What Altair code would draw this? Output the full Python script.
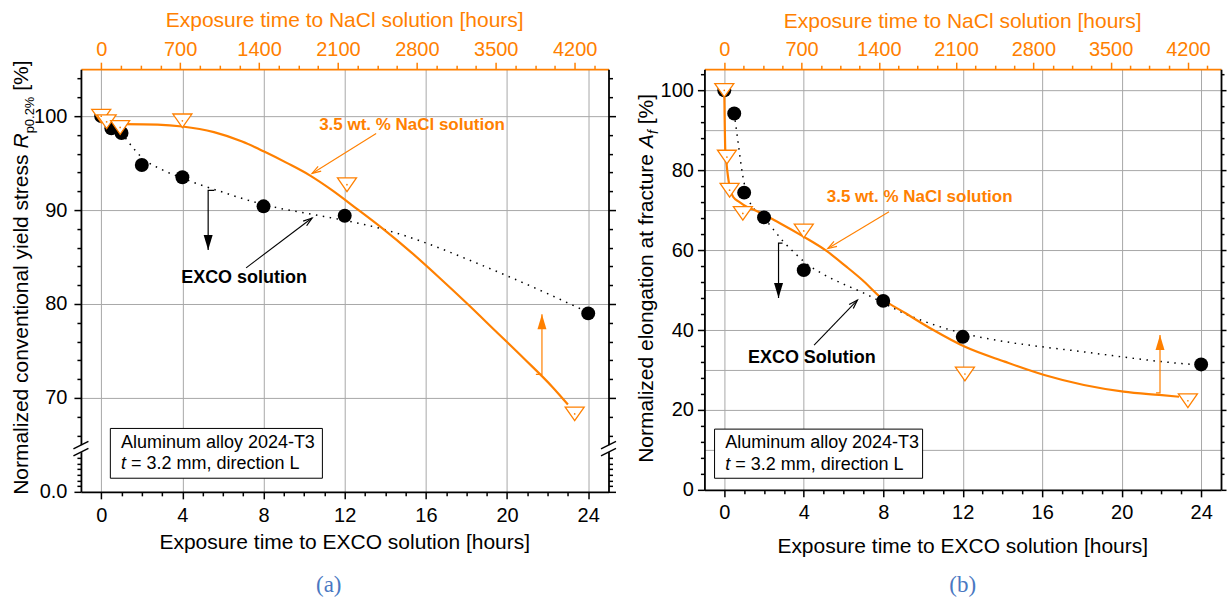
import math
import altair as alt
import pandas as pd

ORANGE = "#FF8000"
BLUE = "#4A78C2"
GRID = "#A8A8A8"
SANS = "Liberation Sans"
SERIF = "Liberation Serif"

XB = [-1, 25]        # EXCO exposure time, hours (bottom axis)
XT = [-180, 4500]    # NaCl exposure time, hours (top axis)

# ---------- (a) normalized conventional yield stress ----------
a_exco_h = [0, 0.5, 1, 2, 4, 8, 12, 24]
a_exco_v = [100, 98.7, 98.2, 94.8, 93.5, 90.4, 89.4, 79.0]
a_nacl_h = [0, 48, 168, 720, 2180, 4200]
a_nacl_v = [100, 99.4, 98.8, 99.5, 92.7, 68.3]
a_exco_fit_h = [0.5, 1, 1.5, 2, 3, 4, 5, 6, 7, 8, 9, 10, 11, 12, 14, 16, 18, 20, 22, 24]
a_exco_fit_v = [99.3, 98.2, 96.8, 95.6, 94.3, 93.4, 92.6, 91.9, 91.2, 90.6, 90.1, 89.7,
                89.3, 88.9, 87.9, 86.5, 84.8, 83.0, 81.1, 79.1]
a_nacl_fit_h = [200, 500, 720, 1000, 1250, 1450, 1650, 1850, 2050, 2250, 2500, 2750,
                3000, 3250, 3500, 3750, 4000, 4140]
a_nacl_fit_v = [99.15, 99.1, 98.9, 98.3, 97.3, 96.2, 95.0, 93.7, 92.1, 90.3, 88.0, 85.5,
                82.8, 80.0, 77.1, 74.2, 71.2, 69.3]

# ---------- (b) normalized elongation at fracture ----------
b_exco_h = [0, 0.5, 1, 2, 4, 8, 12, 24]
b_exco_v = [100, 94.2, 74.4, 68.2, 55.0, 47.3, 38.3, 31.4]
b_nacl_h = [0, 24, 48, 168, 720, 2180, 4200]
b_nacl_v = [100, 83.3, 75.0, 69.2, 64.8, 29.0, 22.3]
b_exco_fit_h = [0.5, 0.6, 0.7, 0.8, 0.9, 1.0, 1.2, 1.5, 2.0, 2.5, 3.0, 3.5, 4.0, 5, 6, 7,
                8, 9, 10, 11, 12, 14, 16, 18, 20, 22, 24]
b_exco_fit_v = [94.2, 90.5, 86.8, 83.0, 79.5, 76.8, 73.0, 70.3, 68.0, 65.0, 62.0, 59.5,
                57.2, 53.9, 51.5, 49.3, 46.8, 44.3, 42.3, 40.6, 39.2, 37.2, 35.8, 34.6,
                33.3, 32.1, 31.2]
b_nacl_fit_h = [0, 9, 20, 45, 81, 135, 207, 278, 500, 710, 926, 1100, 1248, 1428, 1643,
                1894, 2181, 2540, 2899, 3258, 3617, 3940, 4120]
b_nacl_fit_v = [100, 85, 81.7, 76.3, 73.3, 72.1, 70.8, 70.0, 66.8, 63.5, 59.8, 56.0, 52.6,
                47.9, 44.2, 40.0, 35.8, 32.1, 28.75, 26.25, 24.6, 23.75, 23.3]

# Arial / Liberation Sans advance widths (1/1000 em), used to chain title pieces
ARIAL = dict(zip("abcdefghijklmnopqrstuvwxyz",
                 [556, 556, 500, 556, 556, 278, 556, 556, 222, 222, 500, 222, 833,
                  556, 556, 556, 556, 333, 500, 278, 556, 500, 722, 500, 500, 500]))
ARIAL.update(zip("ABCDEFGHIJKLMNOPQRSTUVWXYZ",
                 [667, 667, 722, 722, 667, 611, 778, 722, 278, 500, 667, 556, 833,
                  722, 778, 667, 778, 722, 667, 611, 722, 667, 944, 667, 667, 611]))
ARIAL.update({" ": 278, "%": 889, ".": 278, "[": 278, "]": 278, ",": 278, "=": 584, "-": 333})
ARIAL.update({d: 556 for d in "0123456789"})


def text_width(s, size):
    return sum(ARIAL.get(c, 556) for c in s) * size / 1000.0


ONE = pd.DataFrame({"k": [0]})
TRI = "M-1,-0.72L1,-0.72L0,0.72Z"
VHEAD = "M-0.45,1.4L0,0L0.45,1.4"
FHEAD = "M0,0L0.6,2L-0.6,2Z"


def cond(test, yes, no):
    return {"condition": {"test": test, "value": yes}, "value": no}


def bottom_axis(pad):
    return alt.Axis(orient="bottom", values=list(range(0, 25)), format="d",
                    labelExpr="datum.value % 4 === 0 ? datum.label : ''",
                    tickSize=cond("datum.value % 4 === 0", 7, 4),
                    grid=True, gridColor=GRID, gridWidth=1,
                    gridOpacity=cond("datum.value % 4 === 0", 1, 0),
                    domainColor="black", domainWidth=1.8, tickColor="black", tickWidth=1.5,
                    labelFont=SANS, labelFontSize=20, labelColor="black", labelPadding=pad,
                    labelFlush=False, labelOverlap=False, title=None)


def top_axis():
    return alt.Axis(orient="top", values=[175 * k for k in range(26)], format="d",
                    labelExpr="datum.value % 700 === 0 ? datum.label : ''",
                    tickSize=cond("datum.value % 700 === 0", 7, 4),
                    grid=False, domainColor=ORANGE, domainWidth=1.8, tickColor=ORANGE,
                    tickWidth=1.5, labelFont=SANS, labelFontSize=20, labelColor=ORANGE,
                    labelPadding=3, labelFlush=False, labelOverlap=False, title=None)


def y_axis(orient, values, major, label_expr, grid_test, tick_test, pad, big, small):
    opts = dict(orient=orient, values=values,
                tickSize=cond(major, big, small),
                tickOpacity=cond(tick_test, 1, 0),
                domainColor="black", domainWidth=1.8, tickColor="black", tickWidth=1.5,
                labelFlush=False, labelOverlap=False, title=None)
    if orient == "left":
        opts.update(labelExpr=label_expr, labelFont=SANS, labelFontSize=20,
                    labelColor="black", labelPadding=pad, grid=True, gridColor=GRID,
                    gridWidth=1, gridOpacity=cond(grid_test, 1, 0))
    else:
        opts.update(labels=False, grid=False)
    return alt.Axis(**opts)


def panel(c):
    W, H, ydom = c["W"], c["H"], c["ydom"]
    px_x = W / (XB[1] - XB[0])
    px_y = H / (ydom[1] - ydom[0])

    def X(f, top=False, axis=None):
        return alt.X(f, type="quantitative",
                     scale=alt.Scale(domain=XT if top else XB, nice=False, zero=False),
                     axis=axis)

    def Y(f, axis=None):
        return alt.Y(f, type="quantitative",
                     scale=alt.Scale(domain=ydom, nice=False, zero=False), axis=axis)

    def angle_of(x0, y0, x1, y1):
        dx = (x1 - x0) * px_x
        dy = -(y1 - y0) * px_y
        return math.degrees(math.atan2(dx, -dy)) % 360

    layers = []

    # fitted trends
    efit = pd.DataFrame({"h": c["efit_h"], "v": c["efit_v"]})
    layers.append(alt.Chart(efit).mark_line(color="black", strokeWidth=1.5,
                                            strokeDash=[1.5, 5.5], interpolate="monotone")
                  .encode(x=X("h"), y=Y("v")))
    nfit = pd.DataFrame({"h": c["nfit_h"], "v": c["nfit_v"]})
    layers.append(alt.Chart(nfit).mark_line(color=ORANGE, strokeWidth=2.2,
                                            interpolate="monotone")
                  .encode(x=X("h", top=True), y=Y("v")))

    # pointer arrows from the labels to the curves
    for (x0, y0, x1, y1), col in ((c["nacl_arrow"], ORANGE), (c["exco_arrow"], "black")):
        seg = pd.DataFrame({"x": [x0], "y": [y0], "x2": [x1], "y2": [y1]})
        layers.append(alt.Chart(seg).mark_rule(color=col, strokeWidth=1.1)
                      .encode(x=X("x"), y=Y("y"), x2="x2", y2="y2"))
        tip = pd.DataFrame({"x": [x1], "y": [y1]})
        layers.append(alt.Chart(tip).mark_point(shape=VHEAD, filled=False, color=col,
                                                strokeWidth=1.2, size=164, opacity=1,
                                                angle=angle_of(x0, y0, x1, y1))
                      .encode(x=X("x"), y=Y("y")))

    # trend-direction arrows with a small hook at the tail
    for (x, ytail, ytip, hook), col in ((c["down"], "black"), (c["up"], ORANGE)):
        hk = pd.DataFrame({"i": [0, 1, 2], "x": [x + hook, x, x], "y": [ytail, ytail, ytip]})
        layers.append(alt.Chart(hk).mark_line(color=col, strokeWidth=1.2)
                      .encode(x=X("x"), y=Y("y"), order=alt.Order("i:Q")))
        tip = pd.DataFrame({"x": [x], "y": [ytip]})
        layers.append(alt.Chart(tip).mark_point(shape=FHEAD, filled=True, color=col,
                                                size=225, opacity=1,
                                                angle=180 if ytip < ytail else 0)
                      .encode(x=X("x"), y=Y("y")))

    # measured points
    exco = pd.DataFrame({"h": c["exco_h"], "v": c["exco_v"]})
    layers.append(alt.Chart(exco).mark_point(shape="circle", filled=True, color="black",
                                             size=195, opacity=1)
                  .encode(x=X("h", axis=bottom_axis(c["bpad"])), y=Y("v", axis=c["left"])))
    nacl = pd.DataFrame({"h": c["nacl_h"], "v": c["nacl_v"]})
    layers.append(alt.Chart(nacl).mark_point(shape=TRI, filled=True, fill="white",
                                             stroke=ORANGE, strokeWidth=1.3, size=361,
                                             opacity=1)
                  .encode(x=X("h", top=True, axis=top_axis()), y=Y("v", axis=c["right"])))
    layers.append(alt.Chart(nacl).mark_point(shape="circle", filled=True, color=ORANGE,
                                             size=3, opacity=1)
                  .encode(x=X("h", top=True), y=Y("v")))

    # curve labels
    nx, ny = c["nacl_text"]
    layers.append(alt.Chart(pd.DataFrame({"x": [nx], "y": [ny]}))
                  .mark_text(text="3.5 wt. % NaCl solution", align="left", baseline="middle",
                             font=SANS, fontSize=17, fontWeight="bold", color=ORANGE)
                  .encode(x=X("x"), y=Y("y")))
    ex, ey, etxt = c["exco_text"]
    layers.append(alt.Chart(pd.DataFrame({"x": [ex], "y": [ey]}))
                  .mark_text(text=etxt, align="left", baseline="middle",
                             font=SANS, fontSize=18, fontWeight="bold", color="black")
                  .encode(x=X("x"), y=Y("y")))

    # material box
    bx0, bx1, by0, by1 = c["box"]
    layers.append(alt.Chart(pd.DataFrame({"x": [bx0], "x2": [bx1], "y": [by0], "y2": [by1]}))
                  .mark_rect(fill="white", stroke="black", strokeWidth=1)
                  .encode(x=X("x"), x2="x2", y=Y("y"), y2="y2"))
    tx, ty1, ty2 = c["box_text"]
    layers.append(alt.Chart(pd.DataFrame({"x": [tx], "y": [ty1]}))
                  .mark_text(text="Aluminum alloy 2024-T3", align="left", baseline="middle",
                             font=SANS, fontSize=18, color="black")
                  .encode(x=X("x"), y=Y("y")))
    layers.append(alt.Chart(pd.DataFrame({"x": [tx], "y": [ty2]}))
                  .mark_text(text="t", align="left", baseline="middle", font=SANS,
                             fontSize=18, fontStyle="italic", color="black")
                  .encode(x=X("x"), y=Y("y")))
    layers.append(alt.Chart(pd.DataFrame({"x": [tx], "y": [ty2]}))
                  .mark_text(text="= 3.2 mm, direction L", align="left", baseline="middle",
                             font=SANS, fontSize=18, color="black",
                             dx=text_width("t ", 18))
                  .encode(x=X("x"), y=Y("y")))

    # axis break marks
    if c.get("break") is not None:
        yb = c["break"]
        for x0 in XB:
            gap = pd.DataFrame({"x": [x0], "y": [yb - 3.5 / px_y], "y2": [yb + 3.5 / px_y]})
            layers.append(alt.Chart(gap).mark_rule(color="white", strokeWidth=5)
                          .encode(x=X("x"), y=Y("y"), y2="y2"))
            sl = pd.DataFrame({
                "x": [x0 - 7.5 / px_x] * 2, "x2": [x0 + 7.5 / px_x] * 2,
                "y": [yb - 7.3 / px_y, yb - 0.3 / px_y],
                "y2": [yb + 0.3 / px_y, yb + 7.3 / px_y]})
            layers.append(alt.Chart(sl).mark_rule(color="black", strokeWidth=1.5)
                          .encode(x=X("x"), x2="x2", y=Y("y"), y2="y2"))

    # axis titles
    layers.append(alt.Chart(ONE).mark_text(
        text="Exposure time to EXCO solution [hours]", align="center", baseline="middle",
        font=SANS, fontSize=21, color="black")
        .encode(x=alt.value(W / 2), y=alt.value(c["bottom_title_y"])))
    layers.append(alt.Chart(ONE).mark_text(
        text="Exposure time to NaCl solution [hours]", align="center", baseline="middle",
        font=SANS, fontSize=21, color=ORANGE)
        .encode(x=alt.value(W / 2), y=alt.value(c["top_title_y"])))

    # rotated y title assembled from styled pieces
    y = c["ytitle_start"]
    for text, size, style, shift in c["ytitle"]:
        lead = len(text) - len(text.lstrip())
        layers.append(alt.Chart(ONE).mark_text(
            text=text.strip(), angle=270, align="left", baseline="alphabetic", font=SANS,
            fontSize=size, fontStyle=style, color="black")
            .encode(x=alt.value(c["ytitle_x"] + shift),
                    y=alt.value(y - text_width(text[:lead], size))))
        y -= text_width(text, size)

    # panel letter
    layers.append(alt.Chart(ONE).mark_text(
        text=c["letter"], align="center", baseline="middle", font=SERIF, fontSize=23,
        color=BLUE)
        .encode(x=alt.value(c["letter_x"]), y=alt.value(516)))

    if c.get("origin"):
        ox, oy = c["origin"]
        layers.append(alt.Chart(ONE).mark_rect(opacity=0)
                      .encode(x=alt.value(-ox), x2=alt.value(-ox + 1),
                              y=alt.value(-oy), y2=alt.value(-oy + 1)))

    return (alt.layer(*layers)
            .resolve_scale(x="independent", y="independent")
            .properties(width=W, height=H))


# y axis ticks of (a): broken axis, the lower stub stands for 0.0
a_vals = [60 + 0.6 * k for k in range(7)] + list(range(66, 105, 2))
a_left = y_axis("left", a_vals, "datum.value % 10 === 0",
                "datum.value === 60 ? '0.0' : (datum.value % 10 === 0 ? datum.label : '')",
                "datum.value % 10 === 0 && datum.value > 60", "true", 7, 7, 4)
a_right = y_axis("right", a_vals, "datum.value % 10 === 0", "", "false", "true", 0, 7, 4)

b_vals = sorted(set(range(0, 105, 4)) | {10, 30, 50, 70, 90})
b_left = y_axis("left", b_vals, "datum.value % 20 === 0",
                "datum.value % 20 === 0 ? datum.label : ''",
                "datum.value % 10 === 0 && datum.value > 0", "datum.value % 4 === 0", 4, 7, 4)
b_right = y_axis("right", b_vals, "datum.value % 20 === 0", "", "false",
                 "datum.value % 4 === 0", 0, 5, 3)

panel_a = panel(dict(
    W=528, H=423, ydom=[60, 105],
    exco_h=a_exco_h, exco_v=a_exco_v, nacl_h=a_nacl_h, nacl_v=a_nacl_v,
    efit_h=a_exco_fit_h, efit_v=a_exco_fit_v, nfit_h=a_nacl_fit_h, nfit_v=a_nacl_fit_v,
    left=a_left, right=a_right, bpad=7,
    nacl_text=(10.74, 99.1), nacl_arrow=(13.55, 98.15, 10.39, 93.9),
    exco_text=(3.94, 82.8, "EXCO solution"), exco_arrow=(7.14, 83.85, 10.39, 89.15),
    down=(5.27, 92.1, 85.76, 0.3), up=(21.72, 72.5, 78.9, -0.3),
    box=(0.45, 10.9, 66.75, 61.45), box_text=(0.98, 65.2, 62.95),
    **{"break": 64.6},
    bottom_title_y=474, top_title_y=-48,
    ytitle_start=426, ytitle_x=-53,
    ytitle=[("Normalized conventional yield stress ", 21, "normal", 0),
            ("R", 21, "italic", 0), ("p0.2%", 13, "normal", 6), (" [%]", 21, "normal", 0)],
    letter="(a)", letter_x=248, origin=(81, 69),
))

panel_b = panel(dict(
    W=517, H=421, ydom=[0, 105.3],
    exco_h=b_exco_h, exco_v=b_exco_v, nacl_h=b_nacl_h, nacl_v=b_nacl_v,
    efit_h=b_exco_fit_h, efit_v=b_exco_fit_v, nfit_h=b_nacl_fit_h, nfit_v=b_nacl_fit_v,
    left=b_left, right=b_right, bpad=6,
    nacl_text=(5.16, 73.3), nacl_arrow=(8.29, 69.6, 5.21, 60.4),
    exco_text=(1.19, 33.0, "EXCO Solution"), exco_arrow=(4.52, 36.25, 6.7, 47.5),
    down=(2.73, 61.75, 48.0, 0.2), up=(21.93, 24.25, 38.75, -0.2),
    box=(-0.49, 9.98, 15.2, 2.9), box_text=(0.05, 11.75, 6.25),
    bottom_title_y=478, top_title_y=-47,
    ytitle_start=394, ytitle_x=-51,
    ytitle=[("Normalized elongation at fracture ", 21, "normal", 0),
            ("A", 21, "italic", 0), ("f", 14, "italic", 5), (" [%]", 21, "normal", 0)],
    letter="(b)", letter_x=258.5,
))

chart = (alt.hconcat(panel_a, panel_b, spacing=96, bounds="flush")
         .configure_view(stroke=None)
         .properties(padding=0))

chart.save("out.html", embed_options={"renderer": "svg", "actions": False})
